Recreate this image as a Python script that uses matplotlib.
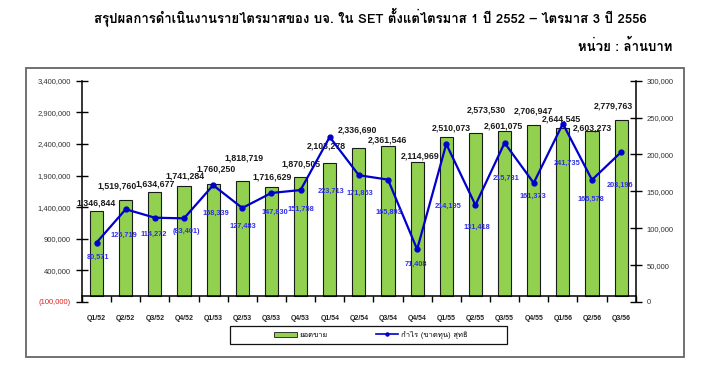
import matplotlib
matplotlib.use("Agg")
import matplotlib.pyplot as plt
from matplotlib import font_manager
from matplotlib.ft2font import FT2Font
from matplotlib.patches import Rectangle, Patch
from matplotlib.lines import Line2D
import numpy as np

# data
quarters = ["Q1/52", "Q2/52", "Q3/52", "Q4/52", "Q1/53", "Q2/53", "Q3/53", "Q4/53",
            "Q1/54", "Q2/54", "Q3/54", "Q4/54", "Q1/55", "Q2/55", "Q3/55", "Q4/55",
            "Q1/56", "Q2/56", "Q3/56"]
sales = [1346844, 1519760, 1634677, 1741284, 1760250, 1818719, 1716629, 1870505,
         2103278, 2336690, 2361546, 2114969, 2510073, 2573530, 2601075, 2706947,
         2644545, 2603273, 2779763]
profit = [80571, 125719, 114272, 113401, 158339, 127483, 147830, 151758,
          223713, 171853, 165893, 71408, 214195, 131418, 215731, 161373,
          241735, 165578, 203196]
profit_labels = ["80,571", "125,719", "114,272", "(83,401)", "158,339", "127,483",
                 "147,830", "151,758", "223,713", "171,853", "165,893", "71,408",
                 "214,195", "131,418", "215,731", "161,373", "241,735", "165,578",
                 "203,196"]
left_ticks = [-100000, 400000, 900000, 1400000, 1900000, 2400000, 2900000, 3400000]
right_ticks = [0, 50000, 100000, 150000, 200000, 250000, 300000]

title = "สรุปผลการดำเนินงานรายไตรมาสของ บจ. ใน SET ตั้งแต่ไตรมาส 1 ปี 2552 – ไตรมาส 3 ปี 2556"
unit = "หน่วย : ล้านบาท"
legend_names = ["ยอดขาย", "กำไร (ขาดทุน) สุทธิ"]

# label nudges in pixels (dx, dy)
sales_off = [(0, 8), (-9, 14), (0, 8), (1, 10), (3, 15), (2, 23), (1, 10), (0, 13),
             (-3, 17), (-1, 18), (-1, 6), (3, 6), (5, 9), (11, 23), (-1, 5), (0, 14),
             (-1, 9), (0, 3), (-8, 14)]
profit_off = [(1, -15), (-2, -26), (-1, -17), (2, -13), (3, -28), (1, -18), (3, -19),
              (0, -19), (1, -54), (1, -18), (1, -33), (-1, -15), (2, -62), (1, -22),
              (2, -35), (-1, -13), (4, -40), (-1, -19), (-1, -33)]

# find a font with thai glyphs
thai_font = None
for f in font_manager.fontManager.ttflist:
    try:
        if 0x0E2A in FT2Font(f.fname).get_charmap():
            thai_font = f.name
            break
    except Exception:
        pass
fams = ["Liberation Sans", "DejaVu Sans"]
if thai_font:
    fams = ["Liberation Sans", thai_font, "DejaVu Sans"]
plt.rcParams["font.family"] = fams
title_fams = [thai_font, "DejaVu Sans"] if thai_font else ["DejaVu Sans"]

fig = plt.figure(figsize=(7.02, 3.78), dpi=100)
ax = fig.add_axes([82 / 702, 1 - 302 / 378, (635.7 - 82) / 702, (302 - 80.7) / 378])
ax2 = ax.twinx()

x = np.arange(len(quarters))
ax.bar(x, sales, width=0.45, color="#92D050", edgecolor="#1a1a1a", linewidth=0.8, zorder=2)
ax.set_xlim(-0.5, len(quarters) - 0.5)
ax.set_ylim(-100000, 3400000)
ax.set_yticks(left_ticks)
ax.set_yticklabels(["(100,000)" if v < 0 else f"{v:,}" for v in left_ticks],
                   fontsize=5.5, color="#333333")
ax.get_yticklabels()[0].set_color("#e02020")
ax.tick_params(axis="y", direction="inout", length=8, width=1, pad=4)

ax.spines["bottom"].set_position(("data", 0))
for s in ["top", "right"]:
    ax.spines[s].set_visible(False)
ax.spines["left"].set_linewidth(1.1)
ax.spines["bottom"].set_linewidth(1.1)
ax.set_xticks(np.arange(len(quarters) + 1) - 0.5)
ax.set_xticklabels([])
ax.set_xticks(x, minor=True)
ax.set_xticklabels(quarters, minor=True, fontsize=5, fontweight="bold", color="#222222")
ax.tick_params(axis="x", which="major", direction="out", length=4, width=1)
ax.tick_params(axis="x", which="minor", length=0, pad=14)

for i, v in enumerate(sales):
    ax.annotate(f"{v:,}", (x[i], v), xytext=sales_off[i], textcoords="offset pixels",
                ha="center", va="center", fontsize=6.3, fontweight="bold",
                color="#1a1a1a", zorder=3)

ax2.plot(x, profit, color="#0000CC", linewidth=1.6, marker="o", markersize=3.5, zorder=4)
ax2.set_ylim(0, 300000)
ax2.set_yticks(right_ticks)
ax2.set_yticklabels([f"{v:,}" for v in right_ticks], fontsize=5.5, color="#333333")
ax2.tick_params(axis="y", direction="inout", length=8, width=1, pad=4)
for s in ["top", "left", "bottom"]:
    ax2.spines[s].set_visible(False)
ax2.spines["right"].set_linewidth(1.1)

for i, v in enumerate(profit):
    ax2.annotate(profit_labels[i], (x[i], v), xytext=profit_off[i], textcoords="offset pixels",
                 ha="center", va="center", fontsize=5.3, fontweight="bold",
                 color="#3030E8", zorder=5)

# outer frame
fig.patches.append(Rectangle((26 / 702, 1 - 357 / 378), 658 / 702, 289 / 378,
                             transform=fig.transFigure, fill=False,
                             edgecolor="#666666", linewidth=1.3))

fig.text(370 / 702, 1 - 17 / 378, title, ha="center", va="center", fontsize=9.5,
         fontweight="bold", family=title_fams)
fig.text(672 / 702, 1 - 46 / 378, unit, ha="right", va="center", fontsize=9.5,
         fontweight="bold", family=title_fams)

# legend box + entries
fig.patches.append(Rectangle((229.5 / 702, 1 - 344 / 378), 278 / 702, 18.5 / 378,
                             transform=fig.transFigure, fill=False,
                             edgecolor="#111111", linewidth=0.9))
handles = [Patch(facecolor="#92D050", edgecolor="#1a1a1a", linewidth=0.6),
           Line2D([], [], color="#0000CC", linewidth=1.2, marker="o", markersize=2.2)]
leg = fig.legend(handles, legend_names, loc="center", ncol=2,
                 bbox_to_anchor=(371 / 702, 1 - 335 / 378),
                 fontsize=5.5, frameon=False, handlelength=2.9, handleheight=0.55,
                 handletextpad=0.4, columnspacing=6.3, borderpad=0.2)
for t in leg.get_texts():
    t.set_family(title_fams)

fig.savefig("out.png", dpi=100)
